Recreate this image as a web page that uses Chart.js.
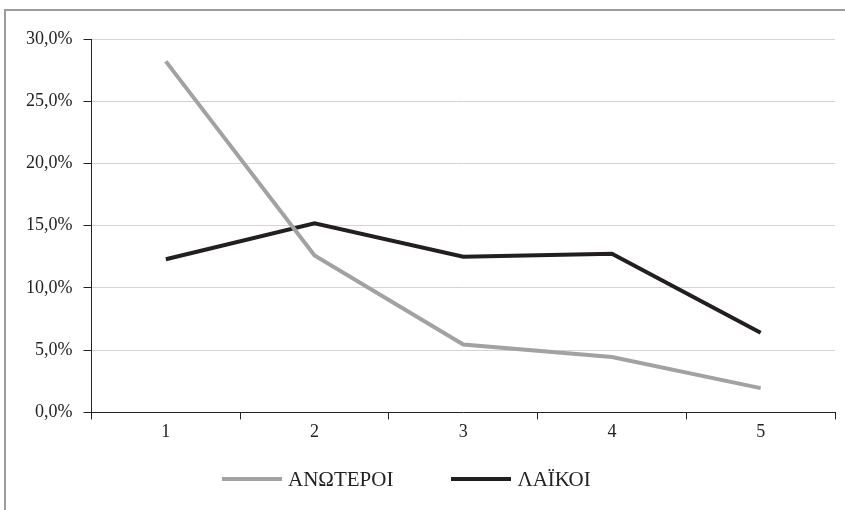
<!DOCTYPE html>
<html>
<head>
<meta charset="utf-8">
<script src="https://cdn.jsdelivr.net/npm/chart.js@4"></script>
<style>
  html, body { margin: 0; padding: 0; background: #fff; }
  #wrap { position: relative; width: 845px; height: 510px; overflow: hidden; }
  #frame { position: absolute; left: 4px; top: 9px; width: 860px; height: 520px; border: 2px solid #9c9c9c; box-sizing: border-box; }
  canvas { position: absolute; left: 0; top: 0; }
  #legend { position: absolute; left: 222px; top: 465px; height: 28px; display: flex; align-items: center;
            font-family: 'Liberation Serif', 'DejaVu Serif', serif; font-size: 21px; color: #222; }
  #legend .item { display: flex; align-items: center; margin-right: 58px; }
  #legend .swatch { width: 60px; height: 4px; margin-right: 6px; }
</style>
</head>
<body>
<div id="wrap">
  <div id="frame"></div>
  <canvas id="myChart" width="845" height="510"></canvas>
  <div id="legend"></div>
</div>
<script>
// categories and values (percent)
const categories = ["1", "2", "3", "4", "5"];
const anoteroi = [28.2, 12.6, 5.45, 4.45, 1.95];
const laikoi = [12.3, 15.2, 12.5, 12.75, 6.4];
const seriesNames = ["ΑΝΩΤΕΡΟΙ", "ΛΑΪΚΟΙ"];
const seriesColors = ["#a2a2a4", "#231f20"];

const font = { family: "'Liberation Serif', 'DejaVu Serif', serif", size: 18 };

const myChart = new Chart("myChart", {
    type: "line",
    data: {
        labels: categories,
        datasets: [{
            label: seriesNames[0],
            data: anoteroi,
            borderColor: seriesColors[0],
            borderWidth: 4,
            pointRadius: 0,
            tension: 0
        }, {
            label: seriesNames[1],
            data: laikoi,
            borderColor: seriesColors[1],
            borderWidth: 4,
            pointRadius: 0,
            tension: 0
        }]
    },
    options: {
        responsive: false,
        animation: false,
        layout: { padding: { top: 39, right: 10, left: 15, bottom: 65 } },
        plugins: {
            tooltip: { enabled: false },
            legend: { display: false }
        },
        scales: {
            x: {
                offset: true,
                grid: {
                    offset: true,
                    drawOnChartArea: false,
                    tickLength: 7,
                    tickColor: "#222"
                },
                border: { color: "#222", width: 1 },
                ticks: { color: "#222", font: font, padding: 2 }
            },
            y: {
                min: 0,
                max: 30,
                grid: {
                    color: "#d4d4d4",
                    tickColor: "#222",
                    tickLength: 8
                },
                border: { color: "#222", width: 1 },
                ticks: {
                    stepSize: 5,
                    color: "#222",
                    font: font,
                    padding: 11,
                    callback: v => v.toFixed(1).replace(".", ",") + "%"
                }
            }
        }
    }
});

// legend built from the chart's datasets
const legendBox = document.getElementById("legend");
myChart.data.datasets.forEach(ds => {
    const item = document.createElement("div");
    item.className = "item";
    const sw = document.createElement("span");
    sw.className = "swatch";
    sw.style.background = ds.borderColor;
    const txt = document.createElement("span");
    txt.textContent = ds.label;
    item.appendChild(sw);
    item.appendChild(txt);
    legendBox.appendChild(item);
});
</script>
</body>
</html>
